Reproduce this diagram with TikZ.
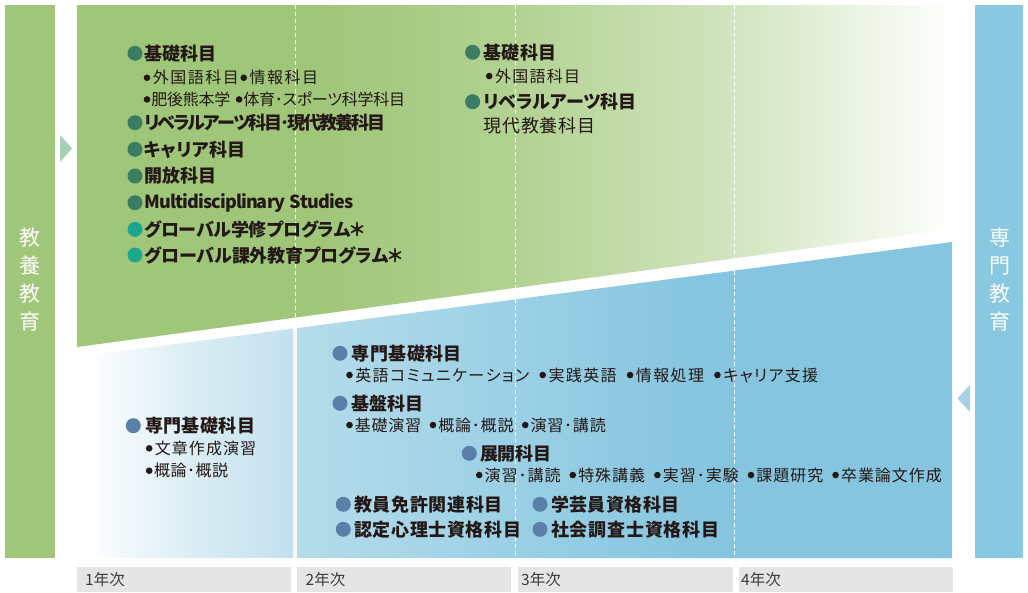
\documentclass[tikz,border=0pt]{standalone}
\usepackage{fontspec}
\setmainfont{Noto Sans CJK JP}[RawFeature=+palt]
\definecolor{lgreen}{HTML}{A0C67A}
\definecolor{gmid}{HTML}{B2D292}
\definecolor{glight}{HTML}{D2E5C0}
\definecolor{barblue}{HTML}{88C8E0}
\definecolor{bluedeep}{HTML}{86C5DF}
\definecolor{bluemid}{HTML}{9BD0E5}
\definecolor{bluestart}{HTML}{B5DCEA}
\definecolor{blueLa}{HTML}{DDEEF5}
\definecolor{blueLb}{HTML}{C2E1EE}
\definecolor{ink}{HTML}{231815}
\definecolor{dkg}{HTML}{3A7D62}
\definecolor{tealdot}{HTML}{1BA68E}
\definecolor{bdot}{HTML}{5A80AA}
\definecolor{trigreen}{HTML}{A7CFB3}
\definecolor{triblue}{HTML}{A6D3E3}
\definecolor{yearbg}{HTML}{E5E5E5}
\definecolor{yeartx}{HTML}{3E3A39}
\definecolor{cream}{HTML}{FBF6E9}
\pgfdeclarehorizontalshading{greenfade}{100bp}{color(0bp)=(lgreen); color(39bp)=(lgreen); color(50bp)=(gmid); color(62.6bp)=(glight); color(75bp)=(white); color(100bp)=(white)}
\pgfdeclarehorizontalshading{bluefadeR}{100bp}{color(0bp)=(bluestart); color(25bp)=(bluestart); color(41.6bp)=(bluemid); color(55.8bp)=(bluedeep); color(100bp)=(bluedeep)}
\pgfdeclarehorizontalshading{bluefadeL}{100bp}{color(0bp)=(white); color(27bp)=(white); color(50bp)=(blueLa); color(75bp)=(blueLb); color(100bp)=(blueLb)}
\newcommand\bul{\tikz[baseline={(0pt,-6pt)}]\fill[ink] (0pt,0pt) circle[radius=3.3pt];\kern1.2pt}
\newcommand\gap{\hskip 6pt plus 10pt\relax}
% spread the letters of #2 evenly over a box #1pt wide
\def\spreadfirst#1{#1\spreadnext}
\def\spreadnext#1{\ifx#1\relax\let\next\relax\else\def\next{\hskip 0pt plus 10pt minus 2pt\relax#1\spreadnext}\fi\next}
\newcommand\fw[2]{\makebox[#1pt][s]{\spreadfirst#2\relax}}
\begin{document}
\begin{tikzpicture}[x=1pt,y=-1pt,
 head/.style={anchor=west,inner sep=0pt,text=ink,font=\fontsize{18}{21}\selectfont\bfseries},
 headr/.style={anchor=west,inner sep=0pt,text=ink,font=\fontsize{18}{21}\selectfont},
 sub/.style={anchor=west,inner sep=0pt,text=ink,font=\fontsize{16}{19}\selectfont},
 dot/.style={circle,inner sep=0pt,minimum size=15pt},
 vtext/.style={text=white,align=center,font=\fontsize{21}{28}\selectfont},
 year/.style={anchor=west,inner sep=0pt,text=yeartx,font=\fontsize{15.5}{18}\selectfont},
 sep/.style={white,line width=0.9pt,dash pattern=on 4pt off 3pt}]
\useasboundingbox (0,0) rectangle (1028,592);
\fill[white] (0,0) rectangle (1028,592);
% side bars
\fill[lgreen] (5,5) rectangle (55,558);
\fill[barblue] (975,5) rectangle (1023,558);
\node[vtext] (kyoyo) at (30,280) {教\\養\\教\\育};
\node[vtext] (senmon) at (1000,280) {専\\門\\教\\育};
\fill[trigreen] (60,135) -- (72,148.5) -- (60,162) -- cycle;
\fill[triblue] (970,385) -- (957.5,398.5) -- (970,412) -- cycle;
% main areas
\shade[shading=greenfade] (77,5) -- (952,5) -- (952,229) -- (77,347) -- cycle;
\shade[shading=bluefadeL] (77,357) -- (293,328.6) -- (293,558) -- (77,558) -- cycle;
\shade[shading=bluefadeR] (297,328.1) -- (952,242) -- (952,558) -- (297,558) -- cycle;
\fill[cream] (293,328.6) rectangle (297,558);
\draw[sep] (295,5) -- (295,317.6);
\draw[sep] (515,5) -- (515,558);
\draw[sep] (734,5) -- (734,558);
% year boxes
\fill[yearbg] (77,567) rectangle (291,592);
\fill[yearbg] (297,567) rectangle (511,592);
\fill[yearbg] (518,567) rectangle (733,592);
\fill[yearbg] (739,567) rectangle (953,592);
\node[year] (y1) at (85,580) {1年次};
\node[year] (y2) at (305.5,580) {2年次};
\node[year] (y3) at (521,580) {3年次};
\node[year] (y4) at (741,580) {4年次};
% upper left
\node[dot,fill=dkg] (d1) at (135,53.3) {};
\node[head] (h1) at (144,53.3) {\fw{72}{基礎科目}};
\node[sub] (s1) at (143.5,77.7) {\fw{174.5}{\bul 外国語科目\bul 情報科目}};
\node[sub] (s2) at (143.5,99.3) {\fw{261.5}{\bul 肥後熊本学\gap\bul 体育･スポーツ科学科目}};
\node[dot,fill=dkg] (d2) at (135,122.7) {};
\node[head] (h2) at (144,122.7) {\fw{231}{リベラルアーツ科目･現代教養科目}};
\node[dot,fill=dkg] (d3) at (135,149.3) {};
\node[head] (h3) at (144,149.3) {\fw{101}{キャリア科目}};
\node[dot,fill=dkg] (d4) at (135,176) {};
\node[head] (h4) at (144,176) {\fw{72}{開放科目}};
\node[dot,fill=dkg] (d5) at (135,202.7) {};
\node[head] (h5) at (144,202.7) {\fw{209}{Multidisciplinary\gap Studies}};
\node[dot,fill=tealdot] (d6) at (135,229.3) {};
\node[head] (h6) at (144,229.3) {\fw{221}{グローバル学修プログラム＊}};
\node[dot,fill=tealdot] (d7) at (135,255) {};
\node[head] (h7) at (144,255) {\fw{259}{グローバル課外教育プログラム＊}};
% upper right
\node[dot,fill=dkg] (d8) at (472.6,52.3) {};
\node[head] (h8) at (483.5,52.3) {\fw{72.5}{基礎科目}};
\node[sub] (s3) at (485.7,76) {\fw{94.3}{\bul 外国語科目}};
\node[dot,fill=dkg] (d9) at (472.6,101.7) {};
\node[head] (h9) at (483.5,101.7) {\fw{152.5}{リベラルアーツ科目}};
\node[headr] (h10) at (483.5,126) {\fw{111.5}{現代教養科目}};
% lower left
\node[dot,fill=bdot] (d10) at (133.3,425.7) {};
\node[head] (h11) at (145,425.7) {\fw{110}{専門基礎科目}};
\node[sub] (s4) at (145.7,448.3) {\fw{110.3}{\bul 文章作成演習}};
\node[sub] (s5) at (145.7,470.7) {\fw{82.3}{\bul 概論･概説}};
% lower right
\node[dot,fill=bdot] (d11) at (340,353.3) {};
\node[head] (h12) at (351.7,353.3) {\fw{110}{専門基礎科目}};
\node[sub] (s6) at (346,375) {\fw{472}{\bul 英語コミュニケーション\gap\bul 実践英語\gap\bul 情報処理\gap\bul キャリア支援}};
\node[dot,fill=bdot] (d12) at (340,403.3) {};
\node[head] (h13) at (351.7,403.3) {\fw{71.3}{基盤科目}};
\node[sub] (s7) at (346,425) {\fw{259.6}{\bul 基礎演習\gap\bul 概論･概説\gap\bul 演習･講読}};
\node[dot,fill=bdot] (d13) at (469.3,453.3) {};
\node[head] (h14) at (480,453.3) {\fw{70.8}{展開科目}};
\node[sub] (s8) at (475.7,475) {\fw{466}{\bul 演習･講読\gap\bul 特殊講義\gap\bul 実習･実験\gap\bul 課題研究\gap\bul 卒業論文作成}};
\node[dot,fill=bdot] (d14) at (343.3,504.3) {};
\node[head] (h15) at (354,504.3) {\fw{148.7}{教員免許関連科目}};
\node[dot,fill=bdot] (d15) at (343.3,529.3) {};
\node[head] (h16) at (354,529.3) {\fw{167}{認定心理士資格科目}};
\node[dot,fill=bdot] (d16) at (540,504.3) {};
\node[head] (h17) at (550.8,504.3) {\fw{128.6}{学芸員資格科目}};
\node[dot,fill=bdot] (d17) at (540,529.3) {};
\node[head] (h18) at (551,529.3) {\fw{168.3}{社会調査士資格科目}};
\end{tikzpicture}
\end{document}
